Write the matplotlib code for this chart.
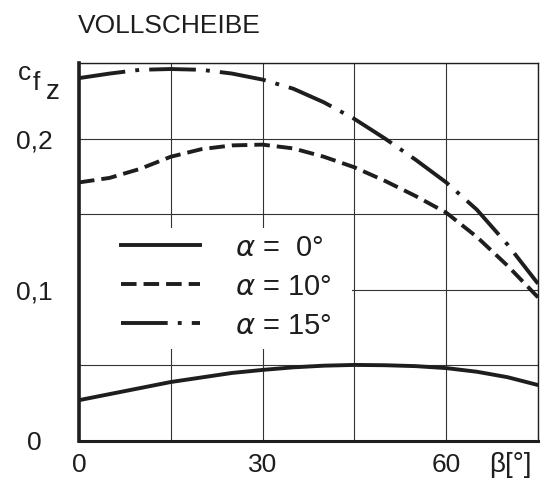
import matplotlib
matplotlib.use("Agg")
import matplotlib.pyplot as plt
from matplotlib.patches import Rectangle

# beta in degrees, c_fz
beta = [0, 5, 10, 15, 20, 25, 30, 35, 40, 45, 50, 55, 60, 65, 70, 75]
cfz_a0 = [0.027, 0.031, 0.035, 0.039, 0.042, 0.045, 0.047, 0.0487,
          0.0498, 0.0503, 0.0501, 0.0495, 0.0482, 0.0458, 0.0422, 0.037]
cfz_a10 = [0.171, 0.174, 0.180, 0.188, 0.193, 0.1955, 0.196, 0.1935,
           0.188, 0.181, 0.172, 0.162, 0.151, 0.135, 0.116, 0.095]
cfz_a15 = [0.240, 0.243, 0.2455, 0.246, 0.2455, 0.243, 0.239, 0.233,
           0.224, 0.213, 0.200, 0.186, 0.171, 0.153, 0.130, 0.104]
labels = [r"$\alpha$ =  0°", r"$\alpha$ = 10°", r"$\alpha$ = 15°"]

x_ticks = [0, 15, 30, 45, 60, 75]
x_ticklabels = ["0", "", "30", "", "60", ""]
y_ticks = [0, 0.05, 0.10, 0.15, 0.20, 0.25]
y_ticklabels = ["0", "", "0,1", "", "0,2", ""]

plt.rcParams["font.family"] = ["Liberation Sans", "DejaVu Sans"]
plt.rcParams["mathtext.fontset"] = "dejavusans"

ink = "#1e1e1e"
fig = plt.figure(figsize=(5.49, 4.83), dpi=100)
ax = fig.add_axes([0.1439, 0.0870, 0.8361, 0.7826])

kw = dict(color=ink, lw=2.8, solid_joinstyle="round", dash_joinstyle="round")
ax.plot(beta, cfz_a0, label=labels[0], **kw)
ax.plot(beta, cfz_a10, linestyle=(0, (4.0, 1.8)), label=labels[1], **kw)
ax.plot(beta, cfz_a15, linestyle=(0, (12, 2.6, 1.0, 2.6)), label=labels[2], **kw)

ax.set_xlim(0, 75)
ax.set_ylim(0, 0.25)
ax.set_xticks(x_ticks)
ax.set_xticklabels(x_ticklabels)
ax.set_yticks(y_ticks)
ax.set_yticklabels(y_ticklabels)
ax.tick_params(length=0, labelsize=19, colors=ink)
ax.tick_params(axis="x", pad=9)
ax.tick_params(axis="y", pad=32)
for t in ax.get_yticklabels():
    t.set_horizontalalignment("center")

ax.grid(True, color="#333333", lw=0.8)
ax.set_axisbelow(True)
ax.spines["left"].set_linewidth(2.6)
ax.spines["bottom"].set_linewidth(2.2)
ax.spines["top"].set_linewidth(1.0)
ax.spines["right"].set_linewidth(1.0)
for s in ax.spines.values():
    s.set_color(ink)

# blank area behind the key, the grid is left out there
ax.add_patch(Rectangle((0, 0.243), 0.595, 0.32, transform=ax.transAxes,
                       facecolor="white", edgecolor="none", zorder=1))

leg = ax.legend(loc="upper left", bbox_to_anchor=(0.073, 0.572), fontsize=21,
                handlelength=2.7, handletextpad=1.2, labelspacing=0.38,
                frameon=False, borderpad=0.3, borderaxespad=0)
for t in leg.get_texts():
    t.set_color(ink)

fig.text(78 / 549, 1 - 26 / 483, "VOLLSCHEIBE", fontsize=19, color=ink,
         ha="left", va="center")
fig.text(18 / 549, 1 - 73 / 483, "c", fontsize=19, color=ink, ha="left", va="center")
fig.text(33 / 549, 1 - 83 / 483, "f", fontsize=19, color=ink, ha="left", va="center")
fig.text(46 / 549, 1 - 92 / 483, "z", fontsize=20, color=ink, ha="left", va="center")
fig.text(510 / 549, 1 - 465 / 483, "β[°]", fontsize=20, color=ink,
         ha="center", va="center")

fig.savefig("out.png", dpi=100)
